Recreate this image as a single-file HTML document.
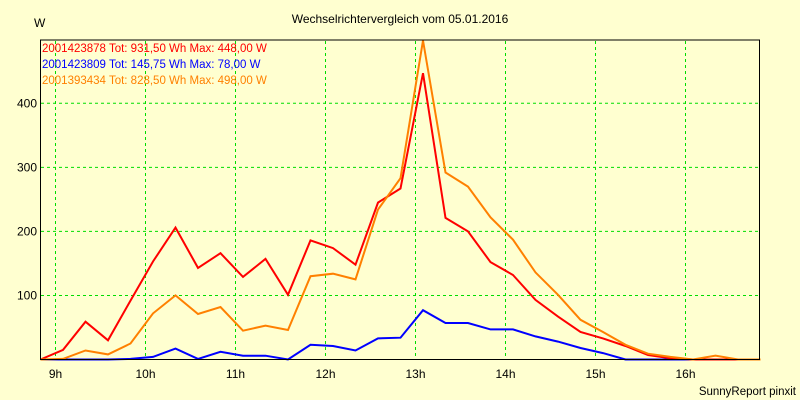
<!DOCTYPE html>
<html><head><meta charset="utf-8"><style>
html,body{margin:0;padding:0;background:#ffffd0;}
svg{display:block;font-family:"Liberation Sans",sans-serif;}
</style></head><body>
<svg id="chart" width="800" height="400" xmlns="http://www.w3.org/2000/svg">
<rect x="0" y="0" width="800" height="400" fill="#ffffd0"/>
<text x="400" y="23" text-anchor="middle" font-size="12" fill="#000">Wechselrichtervergleich vom 05.01.2016</text>
<text x="34" y="27" font-size="12" fill="#000">W</text>
<g id="grid"></g>
<g id="series"></g>
<rect x="40.5" y="40" width="719" height="319.5" fill="none" stroke="#000" stroke-width="1"/>
<g id="axes"></g>
<g font-size="11.5">
<text x="42" y="52" fill="#ff0000">2001423878 Tot: 931,50 Wh Max: 448,00 W</text>
<text x="42" y="68" fill="#0000ff">2001423809 Tot: 145,75 Wh Max: 78,00 W</text>
<text x="42" y="84" fill="#ff8000">2001393434 Tot: 828,50 Wh Max: 498,00 W</text>
</g>
<text x="796" y="395" text-anchor="end" font-size="11.5" fill="#000">SunnyReport pinxit</text>
</svg>
<script>
const yTicks = [100, 200, 300, 400];
const xTickHours = [9, 10, 11, 12, 13, 14, 15, 16];
const xTickLabels = ["9h", "10h", "11h", "12h", "13h", "14h", "15h", "16h"];
const startHour = 8 + 50/60;
const stepHours = 0.25;
const redValues = [0,15,59,30,92,153,206,143,166,129,157,101,186,174,148,245,267,447,221,200,152,132,93,67,43,33,21,7,2,0,0,0,0];
const blueValues = [0,0,0,0,1,4,17,1,12,6,6,0,23,21,14,33,34,77,57,57,47,47,36,28,18,10,0,0,0,0,0,0];
const orangeValues = [0,1,14,8,25,72,100,71,82,45,53,46,130,134,125,234,283,498,292,270,222,187,136,101,62,43,23,9,4,0,6,0,0];

const NS = "http://www.w3.org/2000/svg";
const X0 = 55.5, PXH = 90, Y0 = 359.5, PXV = 0.6405;
function xScale(h){ return X0 + (h - 9) * PXH; }
function yScale(v){ return Y0 - v * PXV; }
const grid = document.getElementById('grid');
const axes = document.getElementById('axes');
yTicks.forEach(function(t){
  const y = yScale(t);
  const l = document.createElementNS(NS,'line');
  l.setAttribute('x1',41); l.setAttribute('x2',759); l.setAttribute('y1',y); l.setAttribute('y2',y);
  l.setAttribute('stroke','#00dd00'); l.setAttribute('stroke-dasharray','3,3');
  
  
  grid.appendChild(l);
  const tx = document.createElementNS(NS,'text');
  tx.setAttribute('x',37); tx.setAttribute('y',y+4); tx.setAttribute('text-anchor','end'); tx.setAttribute('font-size','12');
  tx.textContent = t;
  
  
  axes.appendChild(tx);
});
xTickHours.forEach(function(h,i){
  const x = xScale(h);
  const l = document.createElementNS(NS,'line');
  l.setAttribute('x1',x); l.setAttribute('x2',x); l.setAttribute('y1',41); l.setAttribute('y2',359);
  l.setAttribute('stroke','#00dd00'); l.setAttribute('stroke-dasharray','3,3');
  
  
  grid.appendChild(l);
  const tx = document.createElementNS(NS,'text');
  tx.setAttribute('x',x); tx.setAttribute('y',378); tx.setAttribute('text-anchor','middle'); tx.setAttribute('font-size','12');
  tx.textContent = xTickLabels[i];
  
  
  axes.appendChild(tx);
});
const series = document.getElementById('series');
function draw(vals, color, name){
  const pts = vals.map(function(v,i){ return xScale(startHour + i*stepHours).toFixed(1) + ',' + yScale(v).toFixed(1); });
  const p = document.createElementNS(NS,'polyline');
  p.setAttribute('points', pts.join(' '));
  p.setAttribute('fill','none'); p.setAttribute('stroke',color); p.setAttribute('stroke-width','2');
  
  
  series.appendChild(p);
}
draw(blueValues, '#0000ff', 'series-2001423809');
draw(redValues, '#ff0000', 'series-2001423878');
draw(orangeValues, '#ff8000', 'series-2001393434');
</script>
</body></html>
